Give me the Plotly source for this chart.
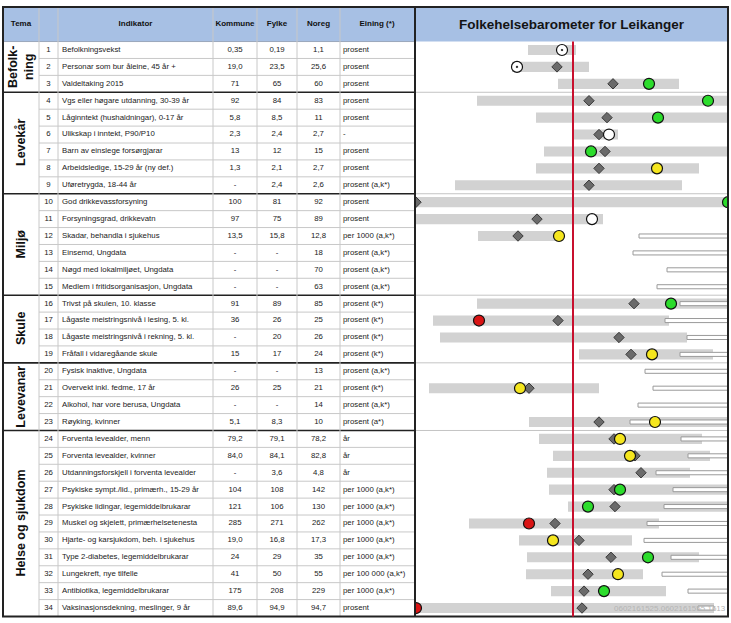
import plotly.graph_objects as go

# ---- table data ----
nr = list(range(1, 35))
indikator = [
    "Befolkningsvekst", "Personar som bur åleine, 45 år +", "Valdeltaking 2015",
    "Vgs eller høgare utdanning, 30-39 år", "Låginntekt (hushaldningar), 0-17 år",
    "Ulikskap i inntekt, P90/P10", "Barn av einslege forsørgjarar",
    "Arbeidsledige, 15-29 år (ny def.)", "Uføretrygda, 18-44 år",
    "God drikkevassforsyning", "Forsyningsgrad, drikkevatn", "Skadar, behandla i sjukehus",
    "Einsemd, Ungdata", "Nøgd med lokalmiljøet, Ungdata", "Medlem i fritidsorganisasjon, Ungdata",
    "Trivst på skulen, 10. klasse", "Lågaste meistringsnivå i lesing, 5. kl.",
    "Lågaste meistringsnivå i rekning, 5. kl.", "Fråfall i vidaregåande skule",
    "Fysisk inaktive, Ungdata", "Overvekt inkl. fedme, 17 år", "Alkohol, har vore berusa, Ungdata",
    "Røyking, kvinner", "Forventa levealder, menn", "Forventa levealder, kvinner",
    "Utdanningsforskjell i forventa levealder", "Psykiske sympt./lid., primærh., 15-29 år",
    "Psykiske lidingar, legemiddelbrukarar", "Muskel og skjelett, primærhelsetenesta",
    "Hjarte- og karsjukdom, beh. i sjukehus", "Type 2-diabetes, legemiddelbrukarar",
    "Lungekreft, nye tilfelle", "Antibiotika, legemiddelbrukarar",
    "Vaksinasjonsdekning, meslinger, 9 år",
]
kommune = ["0,35", "19,0", "71", "92", "5,8", "2,3", "13", "1,3", "-", "100", "97", "13,5",
           "-", "-", "-", "91", "36", "-", "15", "-", "26", "-", "5,1", "79,2", "84,0", "-",
           "104", "121", "285", "19,0", "24", "41", "175", "89,6"]
fylke = ["0,19", "23,5", "65", "84", "8,5", "2,4", "12", "2,1", "2,4", "81", "75", "15,8",
         "-", "-", "-", "89", "26", "20", "17", "-", "25", "-", "8,3", "79,1", "84,1", "3,6",
         "108", "106", "271", "16,8", "29", "50", "208", "94,9"]
noreg = ["1,1", "25,6", "60", "83", "11", "2,7", "15", "2,7", "2,6", "92", "89", "12,8",
         "18", "70", "63", "85", "25", "26", "24", "13", "21", "14", "10", "78,2", "82,8", "4,8",
         "142", "130", "262", "17,3", "35", "55", "229", "94,7"]
eining = ["prosent", "prosent", "prosent", "prosent", "prosent", "-", "prosent", "prosent",
          "prosent (a,k*)", "prosent", "prosent", "per 1000 (a,k*)", "prosent (a,k*)",
          "prosent (a,k*)", "prosent (a,k*)", "prosent (k*)", "prosent (k*)", "prosent (k*)",
          "prosent (k*)", "prosent (a,k*)", "prosent (k*)", "prosent (a,k*)", "prosent (a*)",
          "år", "år", "år", "per 1000 (a,k*)", "per 1000 (a,k*)", "per 1000 (a,k*)",
          "per 1000 (a,k*)", "per 1000 (a,k*)", "per 100 000 (a,k*)", "per 1000 (a,k*)", "prosent"]
tema = ["Befolk-<br>ning", "Levekår", "Miljø", "Skule", "Levevanar", "Helse og sjukdom"]
tema_first = [1, 4, 10, 16, 20, 24]
tema_last = [3, 9, 15, 19, 23, 34]

# ---- barometer data (standardised, Noreg = 0) ----
bar_lo = [-4.5, -6.1, -1.5, -9.6, -3.7, 0.1, -2.9, -3.7, -11.8, -16, -15.7, -9.5, None, None, None,
          -9.6, -14.0, -13.3, 0.6, None, -14.4, None, -4.4, -3.4, -2.0, -2.6, -2.4, -0.5, -10.4,
          -5.4, -4.6, -4.7, -2.2, -15.7]
bar_hi = [0.3, 1.6, 10.6, 16, 16, 4.5, 16, 12.6, 10.9, 16, 3.0, -1.0, None, None, None,
          16, 9.6, 11.4, 14.0, None, 2.6, None, 16, 12.9, 13.7, 11.7, 16, 16, 8.6,
          5.9, 12.6, 7.0, 9.3, 14.1]
fylke_pos = [-1.1, -1.6, 4.0, 1.6, 3.4, 2.6, 3.2, 2.6, 1.6, -15.7, -3.6, -5.5, None, None, None,
             6.1, -1.5, 4.6, 5.8, None, -4.4, None, 2.6, 4.1, 6.2, 6.8, 4.1, 4.2, -1.8,
             0.6, 3.8, 1.5, 1.1, 0.9]
kommune_pos = [-1.1, -5.6, 7.6, 13.5, 8.5, 3.6, 1.8, 8.4, None, 15.5, 1.9, -1.4, None, None, None,
               9.8, -9.4, None, 7.9, None, -5.3, None, 8.2, 4.7, 5.7, None, 4.7, 1.5, -4.4,
               -2.0, 7.5, 4.5, 3.1, -15.7]
kommune_farge = ["d", "d", "g", "g", "g", "w", "g", "y", None, "g", "w", "y", None, None, None,
                 "g", "r", None, "y", None, "y", None, "y", "y", "y", None, "g", "g", "r",
                 "y", "g", "y", "g", "r"]
tynn_lo = [None] * 11 + [6.6, 6.0, 9.4, 8.4, 10.7, 9.2, 11.4, 10.7, 7.2, 8.0, 6.5, 5.7, 10.8,
                         11.5, 8.3, 10.0, 9.1, 7.4, 7.1, 9.8, 8.9, 11.5, 12.5]
tynn_hi = [None] * 11 + [16] * 22 + [14.1]

# ---- layout helpers ----
W, H = 731, 623
PITCH = 16.91
ROW1_Y = 50
y_top = 1 - ROW1_Y / PITCH
y_bot = 1 + (H - ROW1_Y) / PITCH
HEAD_TOP = 1 - (ROW1_Y - 7) / PITCH
BOTTOM = 34.5
col_lines = [39, 58, 213, 257, 297, 340]
TAB_L, TAB_R, CH_L, CH_R = 3, 415, 416, 728
BLUE = "#a7c0e4"
FONT = "Liberation Sans, Arial, sans-serif"
farge = {"g": "#2cdc2c", "y": "#f5e61e", "r": "#d91414", "w": "white", "d": "white"}

fig = go.Figure()

txt = dict(mode="text", xaxis="x", yaxis="y", hoverinfo="skip", showlegend=False,
           cliponaxis=False, textfont=dict(family=FONT, size=7.8, color="#222"))
fig.add_trace(go.Scatter(x=[48.5] * 34, y=nr, text=[str(n) for n in nr],
                         textposition="middle center", **txt))
fig.add_trace(go.Scatter(x=[62] * 34, y=nr, text=indikator, textposition="middle right", **txt))
fig.add_trace(go.Scatter(x=[235] * 34, y=nr, text=kommune, textposition="middle center", **txt))
fig.add_trace(go.Scatter(x=[277] * 34, y=nr, text=fylke, textposition="middle center", **txt))
fig.add_trace(go.Scatter(x=[318.5] * 34, y=nr, text=noreg, textposition="middle center", **txt))
fig.add_trace(go.Scatter(x=[343] * 34, y=nr, text=eining, textposition="middle right", **txt))

# header texts
head_x = [21, 135.5, 235, 277, 318.5, 377]
head_t = ["Tema", "Indikator", "Kommune", "Fylke", "Noreg", "Eining (*)"]
hy = (HEAD_TOP + 0.5) / 2
fig.add_trace(go.Scatter(x=head_x, y=[hy] * 6, text=["<b>%s</b>" % t for t in head_t],
                         mode="text", textposition="middle center", hoverinfo="skip",
                         showlegend=False, cliponaxis=False,
                         textfont=dict(family=FONT, size=8, color="#111")))

# barometer
bi = [i for i in range(34) if bar_lo[i] is not None]
fig.add_trace(go.Bar(y=[nr[i] for i in bi], base=[bar_lo[i] for i in bi],
                     x=[bar_hi[i] - bar_lo[i] for i in bi], orientation="h", width=0.6,
                     marker=dict(color="#d2d2d2", line_width=0), xaxis="x2", yaxis="y",
                     hoverinfo="skip", showlegend=False))
ti = [i for i in range(34) if tynn_lo[i] is not None]
fig.add_trace(go.Bar(y=[nr[i] for i in ti], base=[tynn_lo[i] for i in ti],
                     x=[tynn_hi[i] - tynn_lo[i] for i in ti], orientation="h", width=0.24,
                     marker=dict(color="white", line=dict(color="#9a9a9a", width=1)),
                     xaxis="x2", yaxis="y", hoverinfo="skip", showlegend=False))
di = [i for i in range(34) if fylke_pos[i] is not None]
fig.add_trace(go.Scatter(x=[fylke_pos[i] for i in di], y=[nr[i] for i in di], mode="markers",
                         marker=dict(symbol="diamond", size=8, color="#6a6a6a",
                                     line=dict(color="#3a3a3a", width=1)),
                         xaxis="x2", yaxis="y", hoverinfo="skip", showlegend=False))
ki = [i for i in range(34) if kommune_pos[i] is not None]
fig.add_trace(go.Scatter(x=[kommune_pos[i] for i in ki], y=[nr[i] for i in ki], mode="markers",
                         marker=dict(symbol=["circle-dot" if kommune_farge[i] == "d" else "circle"
                                             for i in ki],
                                     size=11, color=[farge[kommune_farge[i]] for i in ki],
                                     line=dict(color="#111", width=1.2)),
                         xaxis="x2", yaxis="y", hoverinfo="skip", showlegend=False))

# ---- shapes ----
shapes = []
def line(x0, y0, x1, y1, color, width, xref="x", layer="below"):
    shapes.append(dict(type="line", xref=xref, yref="y", x0=x0, y0=y0, x1=x1, y1=y1,
                       line=dict(color=color, width=width), layer=layer))

shapes.append(dict(type="rect", xref="x", yref="y", x0=TAB_L, x1=CH_R, y0=HEAD_TOP, y1=0.5,
                   fillcolor=BLUE, line_width=0, layer="below"))
for r in range(1, 34):
    b = r + 0.5
    if r in tema_last:
        line(TAB_L, b, TAB_R, b, "#222", 1.6)
        line(CH_L, b, CH_R, b, "#c4c4c4", 1)
    else:
        line(col_lines[0], b, TAB_R, b, "#c8c8c8", 1)
line(TAB_L, 0.5, TAB_R, 0.5, "#9aa8bb", 1)
for cx in col_lines:
    line(cx, HEAD_TOP, cx, BOTTOM, "#c8c8c8", 1)
line(TAB_R, HEAD_TOP, TAB_R, BOTTOM, "#222", 2, layer="above")
shapes.append(dict(type="rect", xref="x", yref="y", x0=TAB_L, x1=CH_R, y0=HEAD_TOP, y1=BOTTOM,
                   line=dict(color="#222", width=2), layer="above"))
line(0, 0.5, 0, BOTTOM, "#c8102e", 2, xref="x2", layer="above")

# ---- annotations ----
ann = []
for t, a, b in zip(tema, tema_first, tema_last):
    ann.append(dict(x=21, y=(a + b) / 2, xref="x", yref="y", text="<b>%s</b>" % t,
                    textangle=-90, showarrow=False,
                    font=dict(family=FONT, size=12.5, color="#111")))
ann.append(dict(x=(CH_L + CH_R) / 2, y=hy, xref="x", yref="y",
                text="<b>Folkehelsebarometer for Leikanger</b>", showarrow=False,
                font=dict(family=FONT, size=13.5, color="#141414")))
ann.append(dict(x=CH_R, y=34, xref="x", yref="y", text="0602161525.0602161555 1613",
                xanchor="right", showarrow=False,
                font=dict(family=FONT, size=8, color="#b5b5b5")))

fig.update_layout(
    width=W, height=H, margin=dict(l=0, r=0, t=0, b=0),
    paper_bgcolor="white", plot_bgcolor="rgba(0,0,0,0)",
    barmode="overlay", shapes=shapes, annotations=ann,
    xaxis=dict(domain=[0, 1], range=[0, W], visible=False, fixedrange=True),
    xaxis2=dict(domain=[CH_L / W, CH_R / W], range=[-15.7, 15.5], visible=False,
                anchor="y", fixedrange=True),
    yaxis=dict(domain=[0, 1], range=[y_bot, y_top], visible=False, fixedrange=True),
)

# the page's default 8px body margin would push the figure off the window
fig.write_html("out.html", config={"displayModeBar": False},
               post_script="document.body.style.margin='0px';")
